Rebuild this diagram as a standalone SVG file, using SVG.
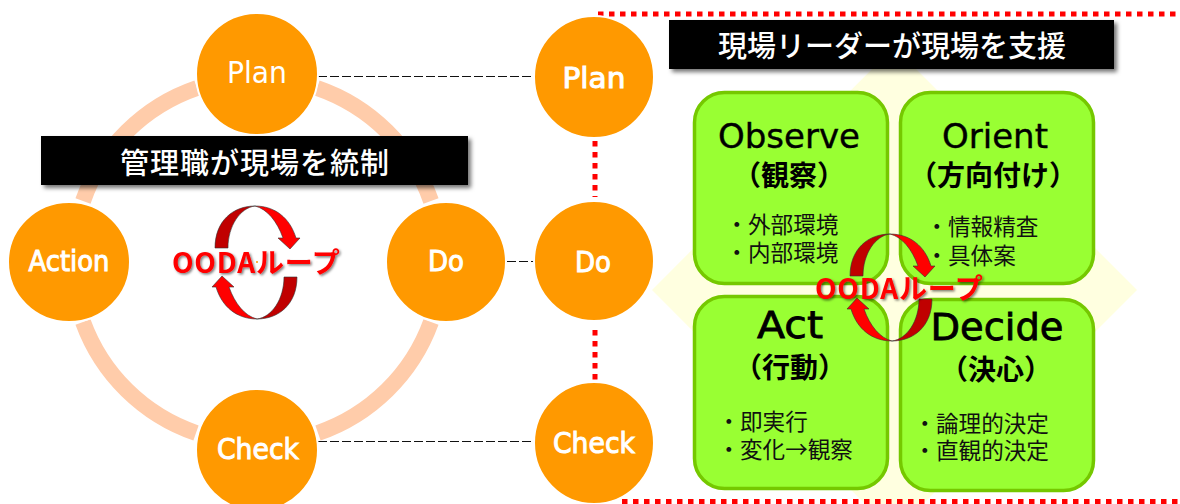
<svg xmlns="http://www.w3.org/2000/svg" xmlns:xlink="http://www.w3.org/1999/xlink" width="1180" height="504" viewBox="0 0 1180 504">
<style>
.lat{font-family:"DejaVu Sans",Verdana,sans-serif}
.jp{font-family:"Noto Sans CJK JP","Noto Sans",sans-serif}
.ring{fill:none;stroke:#FFCCAA;stroke-width:16}
.node{fill:#FF9900;stroke:#fff;stroke-width:2}
.nl{fill:#fff;text-anchor:middle;font-size:28px;stroke:#fff;stroke-width:1}
.dash{stroke:#111;stroke-width:1;stroke-dasharray:9 3;fill:none}
.dot{stroke:#FF0000;stroke-width:5;stroke-dasharray:5.5 5.5;fill:none}
.hdr{fill:#fff;text-anchor:middle;font-size:29px;font-weight:500}
.card{stroke:#75C800;stroke-width:3.500;fill:#99FF33}
.t{fill:#000;font-size:34px;text-anchor:middle;stroke:#000;stroke-width:.4}
.tb{font-size:38px;stroke-width:.8}
.s{fill:#000;font-size:28px;font-weight:700;text-anchor:middle}
.b{fill:#111;font-size:22.6px;font-weight:400}
.ooda{fill:#FF0000;font-size:28px;font-weight:700;letter-spacing:.8px}
</style>
<defs>
<filter id="sh" x="-5%" y="-20%" width="110%" height="150%"><feDropShadow dx="3" dy="3" stdDeviation="2" flood-color="#000" flood-opacity=".55"/></filter>
<filter id="ts" x="-5%" y="-20%" width="110%" height="150%"><feDropShadow dx="1.5" dy="1.5" stdDeviation="1" flood-color="#000" flood-opacity=".5"/></filter>
<g id="curve" stroke="#333" stroke-width=".6">
<path fill="#C00000" d="M-40,42C-40,15-22,0 0,0C-15,2-27,20-27,42Z"/>
<path fill="#FF0000" d="M0,0C20,0 35,12 41,32L45,32L35,43L23,32L28,32C22,15 12,3 0,0Z"/>
</g>
</defs>
<rect width="1180" height="504" fill="#fff"/>
<g id="backdrop">
<polygon points="894,47 1137,290 894,533 652,290" fill="#FFFFE0"/>
</g>
<g id="connectors">
<path class="ring" d="M317,88A184,184 0 0 1 431,201"/>
<path class="ring" d="M431,322A184,184 0 0 1 318,433"/>
<path class="ring" d="M196,433A184,184 0 0 1 83,322"/>
<path class="ring" d="M83,201A184,184 0 0 1 197,88"/>
<path class="dash" d="M318,76.500H534"/>
<path class="dash" d="M507,261.500H534"/>
<path class="dash" d="M318,441.500H534"/>
<path class="dot" d="M598,14H1180"/>
<path class="dot" d="M622,501.500H1180"/>
<path class="dot" d="M595,141V197"/>
<path class="dot" d="M595,330V380"/>
</g>
<g id="node-plan-l"><ellipse class="node" cx="257" cy="74" rx="61" ry="61"/><text class="lat" x="257" y="83" font-size="31" fill="#fff" text-anchor="middle" textLength="60" lengthAdjust="spacingAndGlyphs">Plan</text></g>
<g id="node-do-l"><ellipse class="node" cx="446" cy="262" rx="60" ry="60"/><text class="lat nl" x="446" y="271" textLength="36" lengthAdjust="spacingAndGlyphs">Do</text></g>
<g id="node-check-l"><ellipse class="node" cx="257" cy="450" rx="61" ry="61"/><text class="lat nl" x="258" y="459" textLength="82" lengthAdjust="spacingAndGlyphs">Check</text></g>
<g id="node-action"><ellipse class="node" cx="69" cy="262" rx="61" ry="60"/><text class="lat nl" x="69" y="271" textLength="81" lengthAdjust="spacingAndGlyphs">Action</text></g>
<g id="node-plan-r"><ellipse class="node" cx="594" cy="77" rx="60" ry="61"/><text class="lat nl" x="594" y="88" font-size="30" textLength="63" lengthAdjust="spacingAndGlyphs">Plan</text></g>
<g id="node-do-r"><ellipse class="node" cx="594" cy="261" rx="60" ry="60"/><text class="lat nl" x="593" y="272" textLength="36" lengthAdjust="spacingAndGlyphs">Do</text></g>
<g id="node-check-r"><ellipse class="node" cx="594" cy="443" rx="60" ry="61"/><text class="lat nl" x="594" y="453" textLength="82" lengthAdjust="spacingAndGlyphs">Check</text></g>
<g id="header-left"><rect x="41" y="136" width="427" height="49" fill="#000" filter="url(#sh)"/><text class="jp hdr" x="255" y="174" letter-spacing="1">管理職が現場を統制</text></g>
<g id="header-right"><rect x="669" y="20" width="445" height="49" fill="#000" filter="url(#sh)"/><text class="jp hdr" x="892" y="57">現場リーダーが現場を支援</text></g>
<g id="card-observe"><rect class="card" x="694.500" y="92.500" width="193" height="191" rx="30"/>
<text class="lat t" x="789" y="148">Observe</text>
<text class="jp s" x="789" y="186">（観察）</text>
<text class="jp b" x="725.400" y="233">・外部環境</text>
<text class="jp b" x="725.400" y="261">・内部環境</text></g>
<g id="card-orient"><rect class="card" x="900.500" y="92.500" width="193" height="191" rx="30"/>
<text class="lat t" x="995" y="148">Orient</text>
<text class="jp s" x="993" y="186">（方向付け）</text>
<text class="jp b" x="925.400" y="235">・情報精査</text>
<text class="jp b" x="925.400" y="264">・具体案</text></g>
<g id="card-act"><rect class="card" x="694.500" y="296.500" width="193" height="192" rx="30"/>
<text class="lat t tb" x="790" y="338" textLength="66" lengthAdjust="spacingAndGlyphs">Act</text>
<text class="jp s" x="790" y="378">（行動）</text>
<text class="jp b" x="717.400" y="430">・即実行</text>
<text class="jp b" x="717.400" y="458">・変化→観察</text></g>
<g id="card-decide"><rect class="card" x="900.500" y="299.500" width="193" height="191" rx="30"/>
<text class="lat t tb" x="997" y="340" textLength="133" lengthAdjust="spacingAndGlyphs">Decide</text>
<text class="jp s" x="996" y="380">（決心）</text>
<text class="jp b" x="913.400" y="432">・論理的決定</text>
<text class="jp b" x="913.400" y="459">・直観的決定</text></g>
<g id="loop-left">
<use href="#curve" transform="translate(255,206)"/>
<use href="#curve" transform="translate(257,319) rotate(180)"/>
<text class="jp ooda" x="172" y="273" filter="url(#ts)">OODAループ</text>
<circle cx="257" cy="262" r="1" fill="#FF9900"/>
</g>
<g id="loop-right">
<use href="#curve" transform="translate(890,234)"/>
<use href="#curve" transform="translate(892,341) rotate(180)"/>
<text class="jp ooda" x="815" y="299" filter="url(#ts)">OODAループ</text>
</g>
</svg>
